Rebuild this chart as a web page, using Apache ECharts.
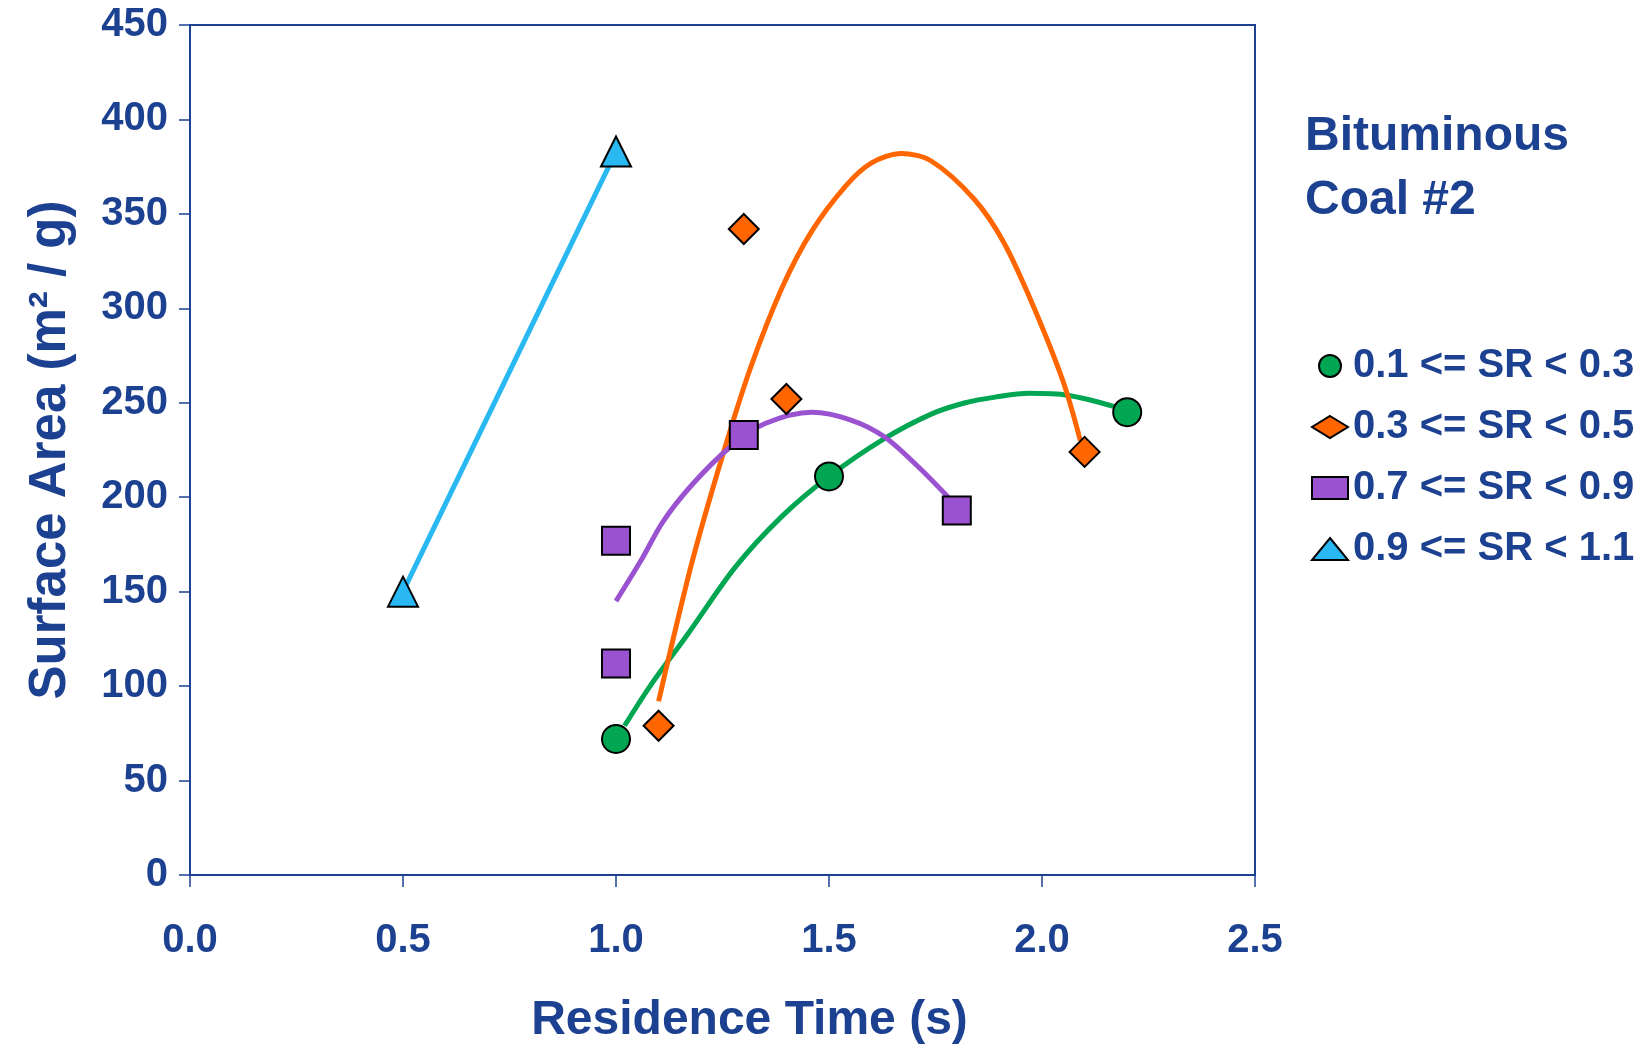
<!DOCTYPE html>
<html>
<head>
<meta charset="utf-8">
<script src="https://cdn.jsdelivr.net/npm/echarts@6/dist/echarts.min.js"></script>
<style>
  html, body { margin: 0; padding: 0; background: #fff; }
  #main { width: 1648px; height: 1050px; }
</style>
</head>
<body>
<div id="main"></div>
<script>
// measured points, [residence time (s), surface area (m2/g)]
const srNames = ['0.1 <= SR < 0.3', '0.3 <= SR < 0.5', '0.7 <= SR < 0.9', '0.9 <= SR < 1.1'];
const pointsSR1 = [[1.0, 72], [1.5, 211], [2.2, 245]];
const pointsSR3 = [[1.1, 79], [1.3, 342], [1.4, 252], [2.1, 224]];
const pointsSR7 = [[1.0, 112], [1.0, 177], [1.3, 233], [1.8, 193]];
const pointsSR9 = [[0.5, 150], [1.0, 383]];

// trend curves
const trendSR1 = [[1.02, 79], [1.08, 100], [1.17, 128], [1.28, 163], [1.39, 190], [1.5, 211], [1.63, 231],
  [1.74, 244], [1.82, 250], [1.89, 253], [1.97, 255], [2.06, 254], [2.17, 248], [2.2, 245]];
const trendSR3 = [[1.1, 92], [1.13, 121], [1.18, 167], [1.25, 222], [1.315, 268], [1.39, 311], [1.46, 341],
  [1.54, 365], [1.6, 377], [1.67, 382], [1.74, 378], [1.84, 358], [1.91, 335], [1.98, 301], [2.05, 261], [2.09, 230]];
const trendSR7 = [[1.0, 145], [1.06, 167], [1.11, 187], [1.18, 207], [1.27, 227], [1.35, 239], [1.46, 245],
  [1.55, 241], [1.63, 232], [1.71, 216], [1.78, 200]];
const trendSR9 = [[0.5, 150], [1.0, 383]];

const xTicks = [0, 0.5, 1.0, 1.5, 2.0, 2.5];
const yTicks = [0, 50, 100, 150, 200, 250, 300, 350, 400, 450];

const navy = '#1d4191';
const font = 'Liberation Sans';
const colors = ['#00a651', '#ff6600', '#9a52d1', '#29b8f2'];
const symbols = ['circle', 'diamond', 'rect', 'triangle'];
const sizes = [28, 30, 28, 30];

const chart = echarts.init(document.getElementById('main'), null, { renderer: 'canvas' });

function scatter(i, data) {
  return {
    name: srNames[i],
    type: 'scatter',
    data: data,
    symbol: symbols[i],
    symbolSize: sizes[i],
    z: 5,
    itemStyle: { color: colors[i], borderColor: '#000', borderWidth: 2, opacity: 1 }
  };
}

function trend(i, data) {
  return {
    name: 'trend ' + i,
    type: 'line',
    data: data,
    smooth: 0.3,
    showSymbol: false,
    silent: true,
    z: 2,
    lineStyle: { color: colors[i], width: 5 }
  };
}

var option = {
  backgroundColor: '#fff',
  animation: false,
  textStyle: { fontFamily: font },
  title: {
    text: 'Bituminous\nCoal #2',
    left: 1305,
    top: 105,
    padding: 0,
    textStyle: { color: navy, fontFamily: font, fontWeight: 'bold', fontSize: 48, lineHeight: 64 }
  },
  legend: {
    data: srNames,
    orient: 'vertical',
    left: 1311,
    top: 345,
    itemWidth: 36,
    itemHeight: 22,
    itemGap: 19,
    padding: 0,
    textStyle: { color: navy, fontFamily: font, fontWeight: 'bold', fontSize: 40, lineHeight: 42 }
  },
  grid: {
    left: 190,
    top: 25,
    right: 393,
    bottom: 174,
    show: true,
    borderColor: navy,
    borderWidth: 2,
    backgroundColor: 'transparent'
  },
  xAxis: {
    type: 'value',
    min: xTicks[0],
    max: xTicks[xTicks.length - 1],
    interval: 0.5,
    name: 'Residence Time (s)',
    nameLocation: 'middle',
    nameGap: 122,
    nameTextStyle: { color: navy, fontFamily: font, fontWeight: 'bold', fontSize: 48, padding: [0, 0, 0, 54] },
    axisLine: { onZero: false, lineStyle: { color: navy, width: 2 } },
    axisTick: { inside: false, length: 12, lineStyle: { color: navy, width: 1.5 } },
    axisLabel: {
      margin: 46,
      color: navy,
      fontFamily: font,
      fontWeight: 'bold',
      fontSize: 40,
      formatter: v => v.toFixed(1)
    },
    splitLine: { show: false }
  },
  yAxis: {
    type: 'value',
    min: yTicks[0],
    max: yTicks[yTicks.length - 1],
    interval: 50,
    name: 'Surface Area (m² / g)',
    nameLocation: 'middle',
    nameGap: 114,
    nameTextStyle: { color: navy, fontFamily: font, fontWeight: 'bold', fontSize: 51 },
    axisLine: { onZero: false, lineStyle: { color: navy, width: 2 } },
    axisTick: { inside: false, length: 11, lineStyle: { color: navy, width: 1.5 } },
    axisLabel: { margin: 22, padding: [6, 0, 0, 0], color: navy, fontFamily: font, fontWeight: 'bold', fontSize: 40 },
    splitLine: { show: false }
  },
  series: [
    trend(0, trendSR1),
    trend(1, trendSR3),
    trend(2, trendSR7),
    trend(3, trendSR9),
    scatter(0, pointsSR1),
    scatter(1, pointsSR3),
    scatter(2, pointsSR7),
    scatter(3, pointsSR9)
  ]
};

chart.setOption(option);
</script>
</body>
</html>
